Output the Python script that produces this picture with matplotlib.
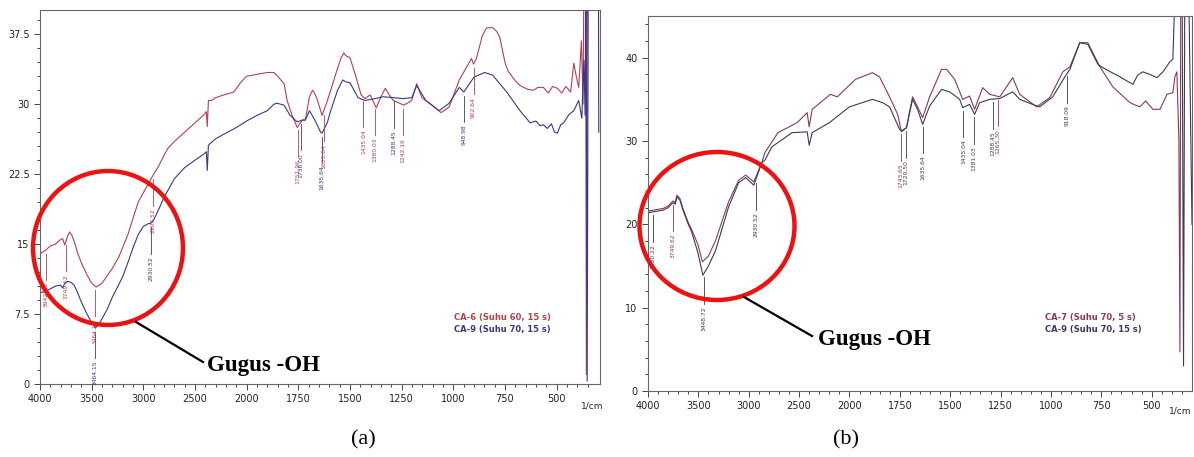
import numpy as np
import matplotlib
matplotlib.use('Agg')
import matplotlib.pyplot as plt
from matplotlib.patches import Ellipse
from matplotlib.lines import Line2D
from matplotlib.ticker import FixedLocator

# ---- panel (a): CA-6 vs CA-9 ----
a_red_wn = [4000, 3950, 3900, 3850, 3800, 3781, 3760, 3735, 3714, 3690, 3660, 3638, 3600, 3550,
            3500, 3457, 3400, 3350, 3300, 3238, 3150, 3050, 2950, 2900, 2860, 2800, 2760, 2700,
            2600, 2500, 2420, 2390, 2381, 2370, 2340, 2300, 2220, 2124, 2060, 2000, 1951, 1900,
            1868, 1850, 1819, 1804, 1780, 1755, 1740, 1730, 1716, 1696, 1681, 1667, 1657, 1642,
            1635, 1615, 1593, 1565, 1544, 1530, 1520, 1500, 1476, 1446, 1427, 1402, 1373, 1350,
            1329, 1310, 1290, 1240, 1215, 1201, 1177, 1152, 1103, 1059, 1020, 971, 912, 902,
            888, 860, 839, 809, 790, 775, 750, 736, 700, 677, 640, 613, 590, 564, 540, 520, 496,
            475, 455, 432, 417, 405, 393, 380, 372, 366, 360, 356, 350, 344, 330, 310, 290]
a_red_val = [14.0, 14.3, 14.8, 15.0, 15.5, 15.6, 14.9, 15.8, 16.3, 15.9, 15.0, 14.1, 13.0, 11.8,
             10.8, 10.4, 10.8, 11.6, 12.4, 13.6, 16.0, 19.5, 21.5, 22.5, 23.2, 24.5, 25.3, 26.0,
             27.0, 28.0, 28.8, 29.2, 27.6, 30.4, 30.4, 30.7, 31.0, 31.3, 32.3, 33.0, 33.2, 33.4,
             33.4, 33.0, 32.2, 30.4, 28.8, 27.5, 28.0, 28.3, 28.3, 30.8, 31.5, 31.0, 30.4, 29.3,
             28.8, 30.0, 31.5, 33.5, 34.9, 35.5, 35.2, 35.0, 33.3, 31.0, 30.6, 31.0, 29.6, 30.8,
             31.7, 31.0, 30.4, 29.9, 30.2, 30.4, 32.2, 30.7, 29.9, 29.1, 29.7, 32.6, 34.9, 34.3,
             34.9, 37.3, 38.2, 38.2, 37.8, 37.2, 34.5, 33.6, 32.5, 32.0, 31.6, 31.5, 31.8, 31.8,
             31.2, 31.9, 31.7, 31.2, 31.9, 31.3, 34.4, 33.0, 31.8, 36.8, 30.0, 50.0, 50.0, 1.0,
             50.0, 50.0, 50.0, 50.0, 50.0]

a_blue_wn = [4000, 3950, 3900, 3850, 3800, 3781, 3760, 3730, 3700, 3670, 3640, 3600, 3550, 3500,
             3464, 3420, 3350, 3300, 3200, 3150, 3100, 3050, 3000, 2950, 2930, 2900, 2860, 2800,
             2700, 2600, 2500, 2420, 2390, 2381, 2370, 2300, 2200, 2100, 2000, 1950, 1900, 1868,
             1853, 1819, 1790, 1755, 1730, 1716, 1696, 1670, 1642, 1635, 1610, 1593, 1560, 1535,
             1520, 1500, 1461, 1427, 1378, 1340, 1290, 1240, 1201, 1177, 1133, 1069, 1020, 971,
             949, 900, 848, 809, 741, 677, 628, 600, 580, 564, 545, 525, 510, 496, 480, 466, 440,
             417, 393, 378, 368, 362, 358, 352, 346, 330, 298, 296]
a_blue_val = [9.8, 9.9, 10.2, 10.5, 10.6, 10.3, 10.8, 11.0, 10.9, 10.6, 9.9, 8.8, 7.6, 6.6,
              6.0, 6.6, 8.0, 9.3, 11.5, 13.0, 14.6, 16.0, 16.9, 17.2, 17.2, 17.6, 18.5, 20.0,
              22.0, 23.2, 24.0, 24.6, 24.9, 22.9, 25.6, 26.3, 26.9, 27.5, 28.2, 28.8, 29.3, 30.0,
              30.1, 29.9, 28.8, 28.1, 28.3, 28.3, 29.3, 28.3, 27.0, 26.9, 28.0, 29.3, 31.5, 32.6,
              32.4, 32.3, 30.7, 30.4, 30.6, 30.8, 30.7, 30.6, 30.7, 32.0, 30.4, 29.3, 30.1, 31.8,
              31.3, 32.9, 33.4, 33.1, 31.3, 29.3, 28.0, 28.2, 27.7, 27.8, 27.4, 27.9, 27.0, 26.9,
              27.8, 28.0, 28.9, 29.3, 30.4, 28.5, 34.7, 28.8, 50.0, 0.3, 50.0, 50.0, 50.0, 27.0]

# ---- panel (b): CA-7 vs CA-9 ----
b_red_wn = [4000, 3950, 3900, 3851, 3800, 3752, 3730, 3713, 3683, 3653, 3600, 3564, 3505, 3460,
            3400, 3328, 3200, 3100, 3030, 2950, 2870, 2840, 2710, 2520, 2420, 2400, 2370, 2190,
            2120, 1970, 1886, 1851, 1801, 1761, 1742, 1717, 1687, 1662, 1637, 1602, 1543, 1518,
            1478, 1438, 1404, 1379, 1339, 1304, 1254, 1190, 1155, 1071, 1006, 941, 906, 857, 817,
            757, 693, 608, 580, 559, 530, 494, 459, 424, 395, 385, 375, 365, 360, 355, 340, 300]
b_red_val = [21.6, 21.7, 21.8, 21.9, 22.2, 22.8, 22.6, 23.5, 23.1, 21.9, 20.2, 19.3, 17.6, 15.5,
             16.2, 18.1, 22.7, 25.3, 25.9, 25.1, 27.4, 28.6, 31.0, 32.2, 33.4, 31.7, 33.8, 35.6,
             35.3, 37.4, 38.2, 37.7, 35.3, 33.2, 31.1, 31.6, 35.3, 34.1, 32.8, 35.3, 38.6, 38.6,
             37.4, 35.0, 35.4, 33.8, 36.4, 35.6, 35.3, 37.6, 35.6, 34.1, 35.2, 38.3, 38.9, 41.8,
             41.8, 38.9, 36.5, 34.6, 34.3, 34.1, 34.8, 33.8, 33.8, 35.6, 35.8, 37.7, 38.3, 30.0,
             4.7, 55.0, 55.0, 55.0]

b_blue_wn = [4000, 3950, 3900, 3851, 3800, 3752, 3730, 3713, 3683, 3653, 3600, 3564, 3505, 3455,
             3400, 3328, 3200, 3100, 3030, 2950, 2870, 2840, 2770, 2570, 2420, 2400, 2370, 2200,
             2000, 1886, 1861, 1836, 1801, 1766, 1751, 1742, 1717, 1687, 1662, 1637, 1602, 1543,
             1518, 1503, 1453, 1438, 1404, 1379, 1354, 1304, 1254, 1190, 1155, 1071, 1056, 991,
             931, 906, 857, 817, 767, 743, 658, 608, 593, 570, 544, 509, 474, 444, 410, 395, 375,
             360, 350, 342, 335, 320, 300]
b_blue_val = [21.4, 21.5, 21.6, 21.7, 22.0, 22.6, 22.4, 23.3, 22.9, 21.7, 20.0, 19.0, 16.6, 13.9,
              15.0, 16.9, 22.1, 25.0, 25.6, 24.7, 27.4, 27.7, 29.3, 31.0, 31.1, 29.5, 31.0, 32.2,
              34.1, 35.0, 34.8, 34.6, 34.1, 32.2, 31.4, 31.2, 31.6, 35.0, 33.8, 32.0, 34.2, 36.2,
              36.0, 35.9, 35.0, 34.0, 34.4, 33.2, 34.6, 35.0, 35.1, 35.9, 35.0, 34.2, 34.1, 35.3,
              37.7, 38.6, 41.8, 41.6, 39.2, 38.8, 37.7, 37.0, 36.8, 37.9, 38.3, 38.0, 37.6, 38.3,
              39.5, 39.8, 55.0, 55.0, 55.0, 3.0, 55.0, 55.0, 20.0]

# peak labels: (wavenumber, text, series)
a_peaks = [(3942, '3942.50', 'r'), (3749, '3749.62', 'r'), (3464, '3464.15', 'r'),
           (3464, '3464.15', 'b'), (2930, '2930.52', 'b'), (2908, '2908.52', 'r'),
           (1751, '1751.96', 'r'), (1736, '1736.00', 'b'), (1635, '1635.64', 'b'),
           (1628, '1635.64', 'r'), (1435, '1435.04', 'r'), (1380, '1380.03', 'r'),
           (1288, '1288.45', 'b'), (1242, '1242.16', 'r'), (949, '948.98', 'b'),
           (902, '902.64', 'r')]
b_peaks = [(3950, '3950.22', 'b'), (3749, '3749.62', 'r'), (3448, '3448.72', 'b'),
           (2930, '2930.52', 'b'), (1743, '1743.65', 'r'), (1720, '1720.50', 'b'),
           (1635, '1635.64', 'b'), (1435, '1435.04', 'b'), (1381, '1381.03', 'b'),
           (1288, '1288.45', 'b'), (1265, '1265.30', 'r'), (918, '918.09', 'b')]

a_legend = ['CA-6 (Suhu 60, 15 s)', 'CA-9 (Suhu 70, 15 s)']
b_legend = ['CA-7 (Suhu 70, 5 s)', 'CA-9 (Suhu 70, 15 s)']


def fwd(x):
    # instrument axis: scale doubles below 2000 1/cm
    x = np.asarray(x, dtype=float)
    return np.where(x >= 2000, x, 2 * x - 2000)


def inv(u):
    u = np.asarray(u, dtype=float)
    return np.where(u >= 2000, u, (u + 2000) / 2)


W, H = 1194, 457
fig = plt.figure(figsize=(W / 100, H / 100), dpi=100)


def px(x, y):
    return x / W, 1 - y / H


def panel(rect, red, blue, ymax, ystep, yminor, xend, peaks, legend, cols, legpos):
    ax = fig.add_axes(rect)
    ax.set_xscale('function', functions=(fwd, inv))
    ax.plot(red[0], red[1], color=cols[0], lw=0.8)
    ax.plot(blue[0], blue[1], color=cols[1], lw=0.8)
    ax.set_xlim(4000, xend)
    ax.set_ylim(0, ymax)
    majors = [4000, 3500, 3000, 2500, 2000, 1750, 1500, 1250, 1000, 750, 500]
    ax.xaxis.set_major_locator(FixedLocator(majors))
    ax.xaxis.set_minor_locator(FixedLocator(list(range(4000, 2000, -100)) + list(range(2000, 300, -50))))
    ax.set_xticklabels([str(m) for m in majors])
    ax.yaxis.set_major_locator(plt.MultipleLocator(ystep))
    ax.yaxis.set_minor_locator(plt.MultipleLocator(yminor))
    ax.yaxis.set_major_formatter(plt.FuncFormatter(lambda v, p: ('%g' % v)))
    ax.tick_params(which='both', direction='out', colors='#444444', labelsize=7,
                   labelcolor='#222222', width=0.7)
    ax.tick_params(which='major', length=4)
    ax.tick_params(which='minor', length=2.5)
    for s in ax.spines.values():
        s.set_color('#666666')
        s.set_linewidth(0.8)
    # peak markers
    for wn, txt, which in peaks:
        ser = red if which == 'r' else blue
        c = cols[0] if which == 'r' else cols[1]
        yv = np.interp(-wn, -np.array(ser[0]), ser[1])
        top = yv - 0.4
        bot = yv - 0.08 * ymax
        ax.plot([wn, wn], [top, bot], color=c, lw=0.6)
        ax.text(wn, bot - 0.3, txt, rotation=90, ha='center', va='top', fontsize=4.3, color=c)
    ax.text(legpos[0], legpos[1], legend[0], transform=ax.transAxes, color=cols[0],
            fontsize=6, fontweight='bold', ha='left', va='center')
    ax.text(legpos[0], legpos[1] - 0.03, legend[1], transform=ax.transAxes, color=cols[1],
            fontsize=6, fontweight='bold', ha='left', va='center')
    return ax


axa = panel([40 / W, 1 - 384 / H, 560 / W, 374 / H], (a_red_wn, a_red_val),
            (a_blue_wn, a_blue_val), 40.1, 7.5, 1.5, 290, a_peaks, a_legend,
            ('#b4404e', '#383888'), (0.74, 0.177))
axb = panel([648 / W, 1 - 391 / H, 544 / W, 375 / H], (b_red_wn, b_red_val),
            (b_blue_wn, b_blue_val), 45, 10, 2, 300, b_peaks, b_legend,
            ('#8e3a4c', '#3a3a5e'), (0.73, 0.195))

fig.text(*px(592, 406), '1/cm', fontsize=6.5, color='#222222', ha='center', va='center')
fig.text(*px(1180, 411), '1/cm', fontsize=6.5, color='#222222', ha='center', va='center')

# red circles and callouts
for (cx, cy, rw, rh) in [(108, 248, 150, 154), (717, 226, 155, 148)]:
    fig.add_artist(Ellipse(px(cx, cy), rw / W, rh / H, transform=fig.transFigure,
                           fill=False, edgecolor='#ee1111', lw=3.2))
for (x0, y0, x1, y1) in [(136, 322, 203, 362), (744, 297, 812, 336)]:
    p0, p1 = px(x0, y0), px(x1, y1)
    fig.add_artist(Line2D([p0[0], p1[0]], [p0[1], p1[1]], transform=fig.transFigure,
                          color='black', lw=1.6))
for (x, y) in [(207, 366), (818, 340)]:
    fig.text(*px(x, y), 'Gugus -OH', family='Liberation Serif', fontweight='bold',
             fontsize=16.5, ha='left', va='center')

fig.text(*px(363, 440), '(a)', family='Liberation Serif', fontsize=16, ha='center', va='center')
fig.text(*px(846, 440), '(b)', family='Liberation Serif', fontsize=16, ha='center', va='center')

fig.savefig('out.png', dpi=100)
